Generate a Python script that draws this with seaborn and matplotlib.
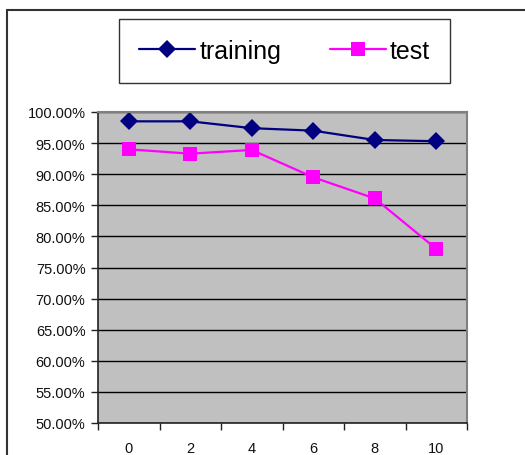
import matplotlib
matplotlib.use("Agg")
import matplotlib.pyplot as plt
import seaborn as sns
import pandas as pd
from matplotlib.patches import Rectangle
from matplotlib.ticker import FixedLocator, FuncFormatter

sns.set_style("white")
plt.rcParams['font.family'] = ['Liberation Sans', 'DejaVu Sans']

steps = ['0', '2', '4', '6', '8', '10']
training = [0.985, 0.985, 0.974, 0.970, 0.955, 0.953]
test = [0.940, 0.933, 0.939, 0.895, 0.861, 0.780]

df = pd.DataFrame({'pos': range(len(steps)), 'training': training, 'test': test})

fig = plt.figure(figsize=(5.25, 4.56), dpi=100, facecolor='white')
fig.patches.append(Rectangle((7 / 525, -0.1), 1.2, 1 - 11 / 456 + 0.1,
                             transform=fig.transFigure, fill=False,
                             edgecolor='#333333', linewidth=1.5))

ax = fig.add_axes([98 / 525, 32 / 456, 369 / 525, 311 / 456])
ax.set_facecolor('#C0C0C0')

sns.lineplot(data=df, x='pos', y='training', ax=ax, color='#000080',
             marker='D', markersize=9, markeredgewidth=0, linewidth=1.6,
             label='training')
sns.lineplot(data=df, x='pos', y='test', ax=ax, color='#FF00FF',
             marker='s', markersize=10, markeredgewidth=0, linewidth=1.6,
             label='test')

ax.set_xlim(-0.5, len(steps) - 0.5)
ax.set_ylim(0.5, 1.0)
ax.set_xlabel('')
ax.set_ylabel('')

ax.set_yticks([0.5 + 0.05 * i for i in range(11)])
ax.yaxis.set_major_formatter(FuncFormatter(lambda v, p: f"{v * 100:.2f}%"))
ax.grid(axis='y', color='black', linewidth=1)
ax.set_axisbelow(True)

ax.xaxis.set_major_locator(FixedLocator([i - 0.5 for i in range(len(steps) + 1)]))
ax.xaxis.set_minor_locator(FixedLocator(list(range(len(steps)))))
ax.set_xticklabels([])
ax.set_xticklabels(steps, minor=True)
ax.tick_params(axis='x', which='major', direction='out', length=5, width=1, color='#222222', bottom=True)
ax.tick_params(axis='x', which='minor', length=0, pad=13, labelsize=10.5, labelcolor='#111111')
ax.tick_params(axis='y', direction='out', length=5, width=1, color='#222222', left=True,
               labelsize=10.5, labelcolor='#111111', pad=4)

for side in ['left', 'bottom']:
    ax.spines[side].set_color('#222222')
    ax.spines[side].set_linewidth(1.2)
for side in ['top', 'right']:
    ax.spines[side].set_color('#808080')
    ax.spines[side].set_linewidth(1.5)

ax.get_legend().remove()
handles, labels = ax.get_legend_handles_labels()
leg = fig.legend(handles, labels, loc='center', bbox_to_anchor=(284.5 / 525, 1 - 52 / 456),
                 ncol=2, fontsize=18, frameon=True, fancybox=False, edgecolor='black',
                 handlelength=2.25, handletextpad=0.16, columnspacing=1.95,
                 borderpad=0.8, borderaxespad=0)
leg.get_frame().set_linewidth(1)
for t in leg.get_texts():
    t.set_color('black')

plt.savefig('out.png', dpi=100, facecolor='white')
plt.close()
